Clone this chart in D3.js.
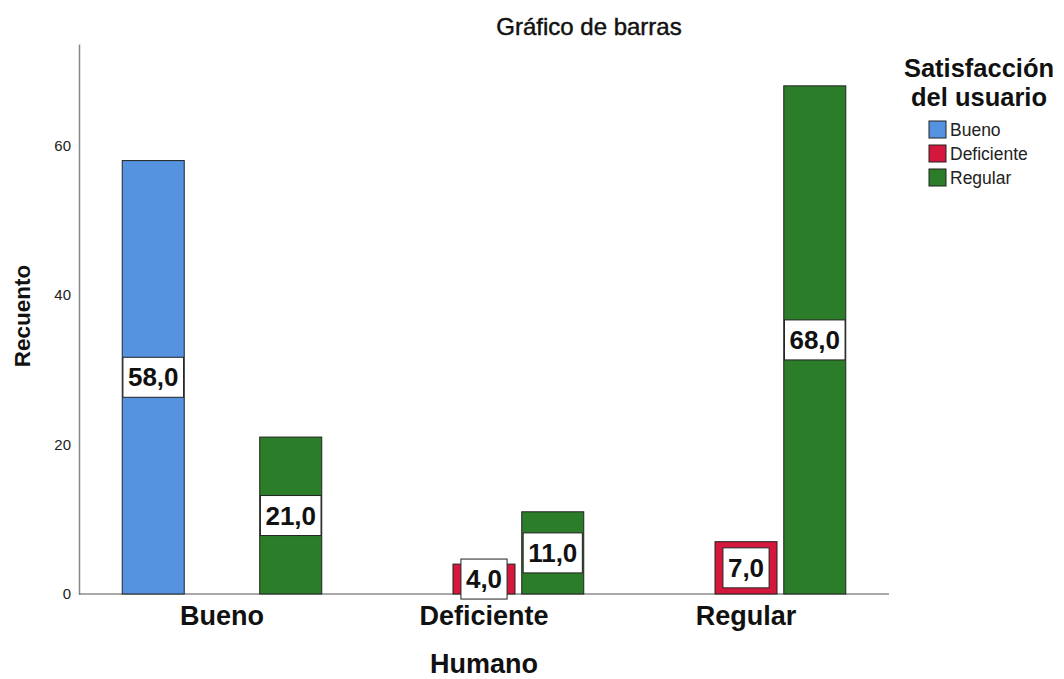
<!DOCTYPE html>
<html><head><meta charset="utf-8">
<script src="https://cdn.jsdelivr.net/npm/d3@7"></script>
<style>body{margin:0;background:#fff}svg{display:block;font-family:Arial,"Liberation Sans",sans-serif}</style>
</head><body><svg id="c" width="1064" height="679"></svg>
<script>
const categories = ["Bueno", "Deficiente", "Regular"];
const seriesNames = ["Bueno", "Deficiente", "Regular"];
const seriesColors = ["#5592e0", "#d5173d", "#2b7d2a"];
// values per x category, per series (null = no bar)
const valBueno = [58, null, 21];
const valDeficiente = [null, 4, 11];
const valRegular = [null, 7, 68];
const yTicks = [0, 20, 40, 60];
const yMax = 73.6;

const values = [valBueno, valDeficiente, valRegular];
const svg = d3.select("#c");
const L = 79, R = 889, T = 44, B = 594;

const x0 = d3.scaleBand().domain(categories).range([L, R]).paddingInner(0.2386).paddingOuter(0.165);
const x1 = d3.scaleBand().domain(seriesNames).range([0, x0.bandwidth()]).paddingInner(0.098).paddingOuter(0);
const y = d3.scaleLinear().domain([0, yMax]).range([B, T]);
const color = d3.scaleOrdinal().domain(seriesNames).range(seriesColors);

// title
svg.append("text").attr("x", 589).attr("y", 35).attr("text-anchor", "middle")
  .attr("font-size", 24).attr("fill", "#111").attr("stroke", "#111").attr("stroke-width", 0.45)
  .text("Gráfico de barras");

// y axis
const yAxis = svg.append("g").attr("transform", `translate(${L},0)`)
  .call(d3.axisLeft(y).tickValues(yTicks).tickSize(0).tickPadding(8));
yAxis.select(".domain").attr("stroke", "#888").attr("stroke-width", 1.5);
yAxis.selectAll("text").attr("font-size", 15).attr("fill", "#222").attr("font-family", "Arial, 'Liberation Sans', sans-serif");

// x axis
const xAxis = svg.append("g").attr("transform", `translate(0,${B})`)
  .call(d3.axisBottom(x0).tickSize(0).tickPadding(12).tickSizeOuter(0));
xAxis.select(".domain").attr("stroke", "#555").attr("stroke-width", 1.2)
  .attr("d", `M${L},0H${R}`);
xAxis.selectAll("text").attr("font-size", 27).attr("font-weight", "bold").attr("fill", "#111")
  .attr("font-family", "Arial, 'Liberation Sans', sans-serif");

// axis titles
svg.append("text").attr("x", 484).attr("y", 673).attr("text-anchor", "middle")
  .attr("font-size", 27).attr("font-weight", "bold").attr("fill", "#111").text("Humano");
svg.append("text").attr("transform", "translate(30,316) rotate(-90)").attr("text-anchor", "middle")
  .attr("font-size", 22.5).attr("font-weight", "bold").attr("fill", "#111").text("Recuento");

// bars
const fmt = v => d3.format(".1f")(v).replace(".", ",");
const flat = [];
categories.forEach((c, i) => seriesNames.forEach((s, j) => {
  if (values[i][j] != null) flat.push({c, s, v: values[i][j]});
}));
const g = svg.append("g");
g.selectAll("rect.bar").data(flat).join("rect").attr("class", "bar")
  .attr("x", d => x0(d.c) + x1(d.s)).attr("width", x1.bandwidth())
  .attr("y", d => y(d.v)).attr("height", d => y(0) - y(d.v))
  .attr("fill", d => color(d.s)).attr("stroke", "#222").attr("stroke-width", 1);

// labels
const lg = svg.append("g");
flat.forEach(d => {
  const cx = x0(d.c) + x1(d.s) + x1.bandwidth() / 2;
  const cy = (y(d.v) + y(0)) / 2;
  const grp = lg.append("g");
  const r = grp.append("rect");
  const t = grp.append("text").attr("x", cx).attr("y", cy).attr("text-anchor", "middle")
    .attr("dominant-baseline", "central").attr("font-size", 26).attr("font-weight", "bold")
    .attr("fill", "#111").text(fmt(d.v));
  const w = Math.min(t.node().getComputedTextLength() + 10, x1.bandwidth());
  r.attr("x", cx - w / 2).attr("y", cy - 20).attr("width", w).attr("height", 40)
    .attr("fill", "#fff").attr("stroke", "#222").attr("stroke-width", 1);
});

// legend
const lt = svg.append("text").attr("text-anchor", "middle")
  .attr("font-size", 25.5).attr("font-weight", "bold").attr("fill", "#111");
lt.append("tspan").attr("x", 979).attr("y", 77).text("Satisfacción");
lt.append("tspan").attr("x", 979).attr("y", 106).text("del usuario");
const leg = svg.append("g").selectAll("g").data(seriesNames).join("g")
  .attr("transform", (d, i) => `translate(929,${121 + i * 24})`);
leg.append("rect").attr("width", 17).attr("height", 17).attr("fill", d => color(d))
  .attr("stroke", "#222").attr("stroke-width", 1);
leg.append("text").attr("x", 21).attr("y", 9).attr("dominant-baseline", "central")
  .attr("font-size", 17.5).attr("fill", "#222").text(d => d);
</script></body></html>
